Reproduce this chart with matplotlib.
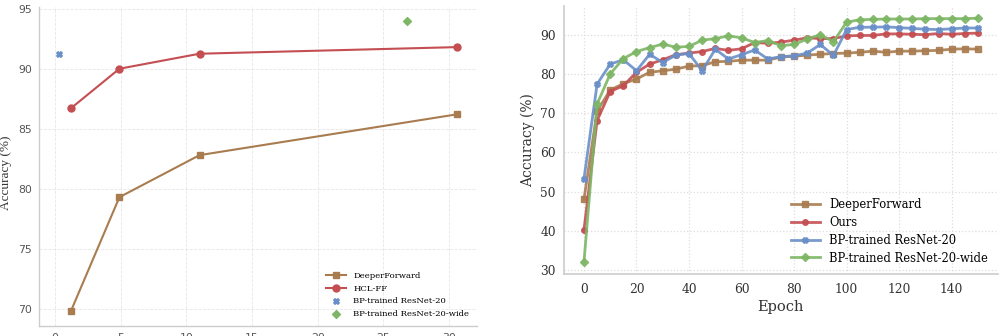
import matplotlib
matplotlib.use("Agg")
import matplotlib.pyplot as plt
import numpy as np

# ---------------- data ----------------
# Left panel: accuracy vs. model size (M params)
params_df = [1.2, 4.9, 11.0, 30.6]
acc_df = [69.8, 79.3, 82.8, 86.2]
params_hcl = [1.2, 4.9, 11.0, 30.6]
acc_hcl = [86.7, 90.0, 91.25, 91.8]
params_bp = [0.27]
acc_bp = [91.2]
params_bpw = [26.8]
acc_bpw = [93.95]

# Right panel: accuracy vs. epoch
epochs = list(range(0, 151, 5))
acc_deeper = [48.0, 70.5, 75.9, 77.5, 78.7, 80.4, 80.8, 81.2, 82.0, 82.1,
              83.1, 83.2, 83.5, 83.5, 83.5, 84.3, 84.5, 84.8, 85.0, 85.2,
              85.3, 85.5, 85.8, 85.5, 85.8, 85.8, 85.9, 86.0, 86.3, 86.4, 86.3]
acc_ours = [40.2, 68.1, 75.5, 77.0, 80.4, 82.5, 83.6, 84.9, 85.3, 85.7,
            86.5, 86.0, 86.4, 88.0, 87.8, 88.1, 88.6, 89.2, 89.0, 89.0,
            89.7, 89.8, 89.8, 90.2, 90.2, 90.1, 90.0, 90.3, 90.1, 90.3, 90.4]
acc_bp20 = [53.2, 77.4, 82.5, 83.6, 80.8, 85.0, 82.9, 84.8, 85.2, 80.8,
            86.3, 83.8, 84.9, 86.1, 83.8, 84.4, 84.6, 85.3, 87.5, 84.7,
            91.3, 91.9, 91.9, 92.0, 91.8, 91.6, 91.4, 91.3, 91.5, 91.7, 91.7]
acc_bp20w = [32.0, 72.3, 80.0, 83.9, 85.7, 86.7, 87.6, 86.8, 87.0, 88.6,
             89.0, 89.7, 89.2, 88.0, 88.5, 87.2, 87.5, 88.9, 90.0, 88.2,
             93.2, 93.8, 93.9, 94.0, 94.0, 94.0, 94.1, 94.1, 94.1, 94.1, 94.2]

labels_left = ["DeeperForward", "HCL-FF", "BP-trained ResNet-20", "BP-trained ResNet-20-wide"]
labels_right = ["DeeperForward", "Ours", "BP-trained ResNet-20", "BP-trained ResNet-20-wide"]

C_BROWN = "#A97C50"
C_RED = "#C44E52"
C_BLUE = "#6A8FC8"
C_GREEN = "#7DB665"
SPINE = "#cccccc"
TXT = "#333333"

fig = plt.figure(figsize=(10.01, 3.36), dpi=100)

# ---------------- left panel ----------------
axl = fig.add_axes([0.0387, 0.0307, 0.4376, 0.949])
axl.plot(params_df, acc_df, color=C_BROWN, marker="s", markersize=5, linewidth=1.5, label=labels_left[0])
axl.plot(params_hcl, acc_hcl, color=C_RED, marker="o", markersize=5, linewidth=1.5, label=labels_left[1])
axl.scatter(params_bp, acc_bp, color=C_BLUE, marker="X", s=16, label=labels_left[2], zorder=3)
axl.scatter(params_bpw, acc_bpw, color=C_GREEN, marker="D", s=16, label=labels_left[3], zorder=3)
axl.set_xticks([0, 5, 10, 15, 20, 25, 30])
axl.set_yticks([70, 75, 80, 85, 90, 95])
axl.grid(True, color="#e6e6e6", linestyle="--", linewidth=0.6)
axl.set_axisbelow(True)
for s in ["top", "right"]:
    axl.spines[s].set_visible(False)
for s in ["left", "bottom"]:
    axl.spines[s].set_color(SPINE)
    axl.spines[s].set_linewidth(1.0)
axl.tick_params(length=0, labelsize=7.8, colors="#555555", pad=5)
for t in axl.get_xticklabels() + axl.get_yticklabels():
    t.set_family("DejaVu Sans")
axl.set_ylabel("Accuracy (%)", family="Liberation Serif", fontsize=9.5, color=TXT)
axl.yaxis.set_label_coords(-0.061, 0.48)
axl.legend(loc="lower right", frameon=False, prop={"family": "DejaVu Serif", "size": 6.1},
           handlelength=2.4, labelspacing=0.55, borderaxespad=0.5)

# ---------------- right panel ----------------
axr = fig.add_axes([0.5637, 0.1836, 0.4329, 0.7985])
kw = dict(linewidth=2.0, markersize=4, alpha=0.9)
axr.plot(epochs, acc_deeper, color=C_BROWN, marker="s", label=labels_right[0], **kw)
axr.plot(epochs, acc_ours, color=C_RED, marker="o", label=labels_right[1], **kw)
axr.plot(epochs, acc_bp20, color=C_BLUE, marker="X", label=labels_right[2], **kw)
axr.plot(epochs, acc_bp20w, color=C_GREEN, marker="D", label=labels_right[3], **kw)
axr.set_xticks([0, 20, 40, 60, 80, 100, 120, 140])
axr.set_yticks([30, 40, 50, 60, 70, 80, 90])
axr.grid(True, color="#dddddd", linestyle=":", linewidth=0.9)
axr.set_axisbelow(True)
for s in ["top", "right"]:
    axr.spines[s].set_visible(False)
for s in ["left", "bottom"]:
    axr.spines[s].set_color(SPINE)
    axr.spines[s].set_linewidth(1.2)
axr.tick_params(length=0, labelsize=8.8, colors=TXT, pad=6)
for t in axr.get_xticklabels() + axr.get_yticklabels():
    t.set_family("DejaVu Serif")
axr.set_xlabel("Epoch", family="DejaVu Serif", fontsize=10.5, color=TXT, labelpad=3)
axr.set_ylabel("Accuracy (%)", family="DejaVu Serif", fontsize=10, color=TXT, labelpad=4)
axr.legend(loc="lower right", frameon=False, prop={"family": "DejaVu Serif", "size": 8.3},
           handlelength=2.5, labelspacing=0.42, borderaxespad=0.45)

fig.savefig("out.png", dpi=100)
